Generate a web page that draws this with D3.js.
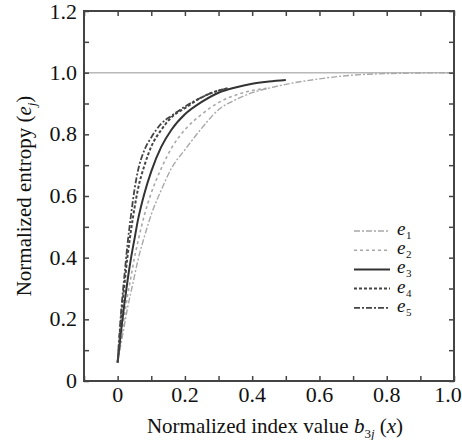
<!DOCTYPE html>
<html>
<head>
<meta charset="utf-8">
<script src="https://cdn.jsdelivr.net/npm/d3@7"></script>
<style>
  body { margin: 0; background: #fff; }
</style>
</head>
<body>
<div class="mainbody"></div>
<script>
// 数据：近似值
var xTicks = [0, 0.2, 0.4, 0.6, 0.8, 1.0];
var yTicks = [0, 0.2, 0.4, 0.6, 0.8, 1.0, 1.2];

var e1x = [0, 0.01, 0.02, 0.03, 0.04, 0.05, 0.06, 0.08, 0.1, 0.13, 0.16, 0.2, 0.25, 0.3, 0.35, 0.4, 0.45, 0.5, 0.6, 0.7, 0.8, 0.9, 1.0];
var e1y = [0.06, 0.12, 0.18, 0.24, 0.29, 0.34, 0.39, 0.47, 0.54, 0.62, 0.69, 0.75, 0.82, 0.88, 0.912, 0.935, 0.95, 0.962, 0.98, 0.992, 0.997, 0.999, 1.0];

var e2x = [0, 0.01, 0.02, 0.03, 0.04, 0.05, 0.06, 0.08, 0.1, 0.13, 0.16, 0.2, 0.25, 0.3, 0.35, 0.4, 0.45];
var e2y = [0.06, 0.14, 0.21, 0.28, 0.34, 0.40, 0.45, 0.54, 0.61, 0.69, 0.755, 0.815, 0.865, 0.903, 0.927, 0.942, 0.95];

var e3x = [0, 0.01, 0.02, 0.03, 0.04, 0.05, 0.06, 0.08, 0.1, 0.13, 0.16, 0.2, 0.25, 0.3, 0.35, 0.4, 0.45, 0.5];
var e3y = [0.06, 0.16, 0.25, 0.33, 0.40, 0.46, 0.52, 0.61, 0.68, 0.76, 0.815, 0.865, 0.905, 0.935, 0.952, 0.964, 0.971, 0.976];

var e4x = [0, 0.01, 0.02, 0.03, 0.04, 0.05, 0.06, 0.08, 0.1, 0.13, 0.16, 0.2, 0.25, 0.3, 0.33];
var e4y = [0.06, 0.20, 0.31, 0.41, 0.49, 0.56, 0.62, 0.70, 0.76, 0.815, 0.855, 0.885, 0.92, 0.942, 0.95];

var e5x = [0, 0.01, 0.02, 0.03, 0.04, 0.05, 0.06, 0.08, 0.1, 0.13, 0.16, 0.2, 0.25, 0.3, 0.33];
var e5y = [0.06, 0.22, 0.34, 0.45, 0.54, 0.62, 0.68, 0.75, 0.79, 0.835, 0.86, 0.89, 0.92, 0.942, 0.95];

var seriesNames = ["1", "2", "3", "4", "5"];

var w = 462, h = 440;
var margin = {left: 84, right: 8, top: 11, bottom: 59};
var serif = "Liberation Serif";

var svg = d3.select(".mainbody")
            .append("svg")
            .attr("width", w)
            .attr("height", h);

var x = d3.scaleLinear().domain([-0.1, 1.0]).range([margin.left, w - margin.right]);
var y = d3.scaleLinear().domain([0, 1.2]).range([h - margin.bottom, margin.top]);

// 线型
var styles = [
  {stroke: "#a8a8a8", width: 1.4, dash: "6,2,2,2"},
  {stroke: "#a8a8a8", width: 1.6, dash: "3,3"},
  {stroke: "#333", width: 2, dash: null},
  {stroke: "#444", width: 2, dash: "3,2"},
  {stroke: "#444", width: 1.8, dash: "6,2,2,2"}
];

var series = [[e1x, e1y], [e2x, e2y], [e3x, e3y], [e4x, e4y], [e5x, e5y]].map(function(s) {
  return s[0].map(function(v, i) { return {x: v, y: s[1][i]}; });
});

// 1.0 参考线
svg.append("line")
   .attr("x1", x(-0.1)).attr("x2", x(1.0))
   .attr("y1", y(1.0)).attr("y2", y(1.0))
   .attr("stroke", "#b8b8b8")
   .attr("stroke-width", 1.5);

var line = d3.line()
             .x(d => x(d.x))
             .y(d => y(d.y))
             .curve(d3.curveMonotoneX);

svg.append("g")
   .selectAll("path")
   .data(series)
   .enter()
   .append("path")
   .attr("d", line)
   .attr("fill", "none")
   .attr("stroke", (d, i) => styles[i].stroke)
   .attr("stroke-width", (d, i) => styles[i].width)
   .attr("stroke-dasharray", (d, i) => styles[i].dash);

// 坐标轴：四边都有朝内的刻度
var minorX = d3.range(-0.1, 1.0001, 0.1);
var minorY = d3.range(0, 1.2001, 0.1);

var axisB = d3.axisBottom(x).tickValues(minorX).tickSize(-5).tickFormat("");
var axisT = d3.axisTop(x).tickValues(minorX).tickSize(-5).tickFormat("");
var axisL = d3.axisLeft(y).tickValues(minorY).tickSize(-5).tickFormat("");
var axisR = d3.axisRight(y).tickValues(minorY).tickSize(-5).tickFormat("");

function styleAxis(g) {
  g.select(".domain").remove();
  g.selectAll("line").attr("stroke", "#444").attr("stroke-width", 1.5);
}

svg.append("g").attr("transform", "translate(0," + y(0) + ")").call(axisB).call(styleAxis);
svg.append("g").attr("transform", "translate(0," + y(1.2) + ")").call(axisT).call(styleAxis);
svg.append("g").attr("transform", "translate(" + x(-0.1) + ",0)").call(axisL).call(styleAxis);
svg.append("g").attr("transform", "translate(" + x(1.0) + ",0)").call(axisR).call(styleAxis);

svg.append("rect")
   .attr("x", x(-0.1)).attr("y", y(1.2))
   .attr("width", x(1.0) - x(-0.1))
   .attr("height", y(0) - y(1.2))
   .attr("fill", "none")
   .attr("stroke", "#444")
   .attr("stroke-width", 2);

// 刻度标签
svg.append("g")
   .selectAll("text")
   .data(xTicks)
   .enter()
   .append("text")
   .attr("font-family", serif)
   .attr("x", d => d === 1 ? x(d) - 6 : x(d))
   .attr("y", y(0) + 21)
   .attr("text-anchor", "middle")
   .attr("font-size", 22)
   .attr("fill", "#111")
   .text(d => d === 0 ? "0" : d3.format(".1f")(d));

svg.append("g")
   .selectAll("text")
   .data(yTicks)
   .enter()
   .append("text")
   .attr("font-family", serif)
   .attr("x", x(-0.1) - 7)
   .attr("y", d => d === 1.2 ? y(d) + 8 : y(d) + 7)
   .attr("text-anchor", "end")
   .attr("font-size", 22)
   .attr("fill", "#111")
   .text(d => d === 0 ? "0" : d3.format(".1f")(d));

// 轴标题
var xt = svg.append("text")
   .attr("font-family", serif)
   .attr("x", (x(-0.1) + x(1.0)) / 2 + 6)
   .attr("y", 433)
   .attr("text-anchor", "middle")
   .attr("font-size", 21)
   .attr("fill", "#111");
xt.append("tspan").text("Normalized index value ");
xt.append("tspan").attr("font-style", "italic").text("b");
xt.append("tspan").attr("font-size", 13).attr("dy", 5).text("3");
xt.append("tspan").attr("font-size", 13).attr("font-style", "italic").text("j");
xt.append("tspan").attr("dy", -5).text(" (");
xt.append("tspan").attr("font-style", "italic").text("x");
xt.append("tspan").text(")");

var yt = svg.append("text")
   .attr("font-family", serif)
   .attr("transform", "translate(31," + ((y(0) + y(1.2)) / 2) + ") rotate(-90)")
   .attr("text-anchor", "middle")
   .attr("font-size", 21)
   .attr("fill", "#111");
yt.append("tspan").text("Normalized entropy (");
yt.append("tspan").attr("font-style", "italic").text("e");
yt.append("tspan").attr("font-size", 13).attr("font-style", "italic").attr("dy", 5).text("j");
yt.append("tspan").attr("dy", -5).text(")");

// 图例
var legend = svg.append("g")
                .selectAll("g")
                .data(seriesNames)
                .enter()
                .append("g")
                .attr("transform", (d, i) => "translate(354," + (231 + i * 19.2) + ")");

legend.append("line")
      .attr("x1", 0).attr("x2", 36)
      .attr("stroke", (d, i) => styles[i].stroke)
      .attr("stroke-width", (d, i) => styles[i].width)
      .attr("stroke-dasharray", (d, i) => styles[i].dash);

// e 与下标分开放，避免行与行之间的文字框重叠
legend.append("text")
      .attr("font-family", serif)
      .attr("x", 43)
      .attr("y", 4)
      .attr("font-size", 19)
      .attr("font-style", "italic")
      .attr("fill", "#111")
      .text("e");

legend.append("text")
      .attr("font-family", serif)
      .attr("x", 52)
      .attr("y", 8)
      .attr("font-size", 11)
      .attr("fill", "#111")
      .text(d => d);
</script>
</body>
</html>
